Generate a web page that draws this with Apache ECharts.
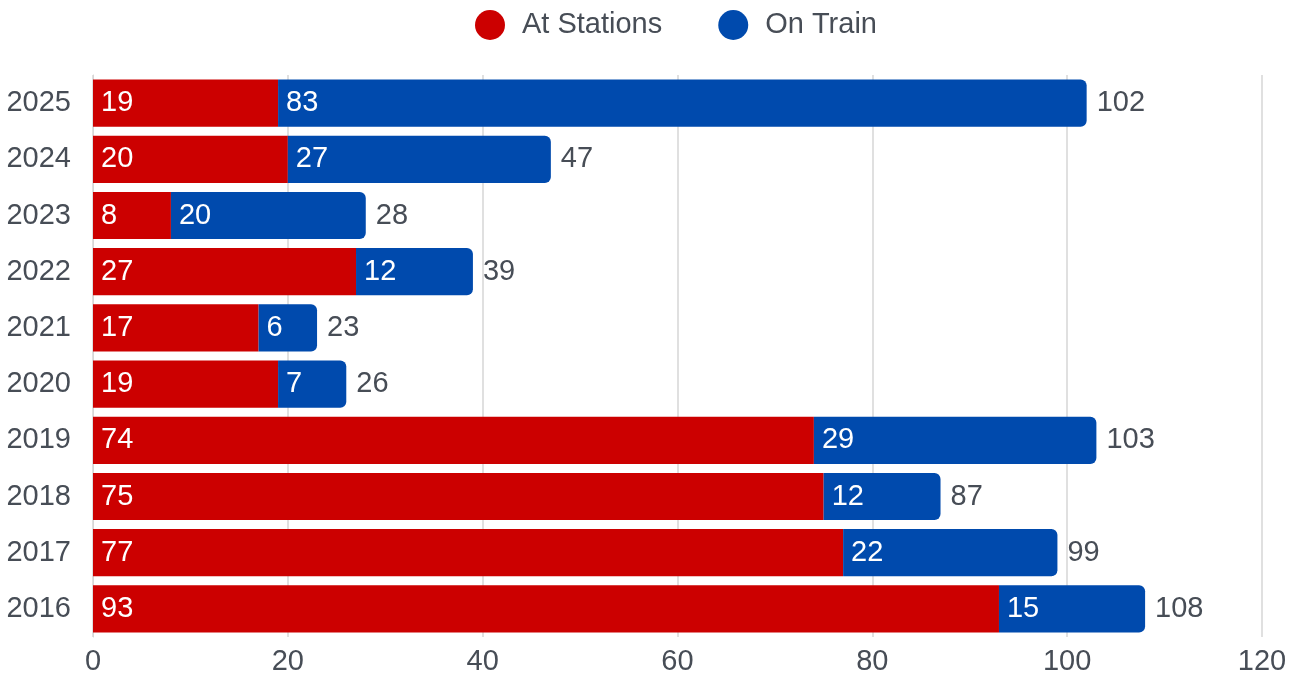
<!DOCTYPE html>
<html><head><meta charset="utf-8">
<script src="https://cdn.jsdelivr.net/npm/echarts@6/dist/echarts.min.js"></script>
<style>html,body{margin:0;padding:0;background:#fff}#c{width:1291px;height:677px}</style>
</head><body><div id="c"></div>
<script>
const years = ['2016','2017','2018','2019','2020','2021','2022','2023','2024','2025'];
const atStations = [93, 77, 75, 74, 19, 17, 27, 8, 20, 19];
const onTrain = [15, 22, 12, 29, 7, 6, 12, 20, 27, 83];
const totals = [108, 99, 87, 103, 26, 23, 39, 28, 47, 102];
const xTicks = [0, 20, 40, 60, 80, 100, 120];

const txt = '#474d56';
const font = '"Liberation Sans", Arial, sans-serif';
const fs = 29;
const chart = echarts.init(document.getElementById('c'));
chart.setOption({
  animation: false,
  textStyle: {fontFamily: font},
  legend: {
    top: 5, left: 470, itemGap: 56, itemWidth: 30, itemHeight: 30,
    icon: 'circle',
    textStyle: {fontSize: fs, color: txt, fontFamily: font, padding: [0, 0, 0, 12]},
    data: ['At Stations', 'On Train']
  },
  grid: {left: 93, right: 29, top: 75, bottom: 40, containLabel: false},
  xAxis: {
    type: 'value', min: xTicks[0], max: xTicks[xTicks.length - 1], interval: 20,
    axisLine: {show: false}, axisTick: {show: false},
    splitLine: {lineStyle: {color: '#d6d6d6', width: 1.5}},
    axisLabel: {fontSize: fs, color: txt, margin: 10, fontFamily: font}
  },
  yAxis: {
    type: 'category', data: years,
    axisLine: {show: true, lineStyle: {color: '#d6d6d6'}}, axisTick: {show: false},
    axisLabel: {fontSize: fs, color: txt, margin: 22, fontFamily: font}
  },
  series: [
    {
      name: 'At Stations', type: 'bar', stack: 't', data: atStations,
      barCategoryGap: '16%',
      itemStyle: {color: '#cc0000'},
      label: {show: true, position: 'insideLeft', distance: 8, color: '#fff', fontSize: fs, fontFamily: font}
    },
    {
      name: 'On Train', type: 'bar', stack: 't', data: onTrain,
      itemStyle: {color: '#004aad', borderRadius: [0, 6, 6, 0]},
      label: {show: true, position: 'insideLeft', distance: 8, color: '#fff', fontSize: fs, fontFamily: font}
    },
    {
      name: 'Total', type: 'bar', stack: 't', data: totals.map(() => 0),
      itemStyle: {color: 'transparent'}, silent: true,
      label: {show: true, position: 'right', distance: 10, color: txt, fontSize: fs, fontFamily: font,
        formatter: p => totals[p.dataIndex]}
    }
  ]
});
</script></body></html>
